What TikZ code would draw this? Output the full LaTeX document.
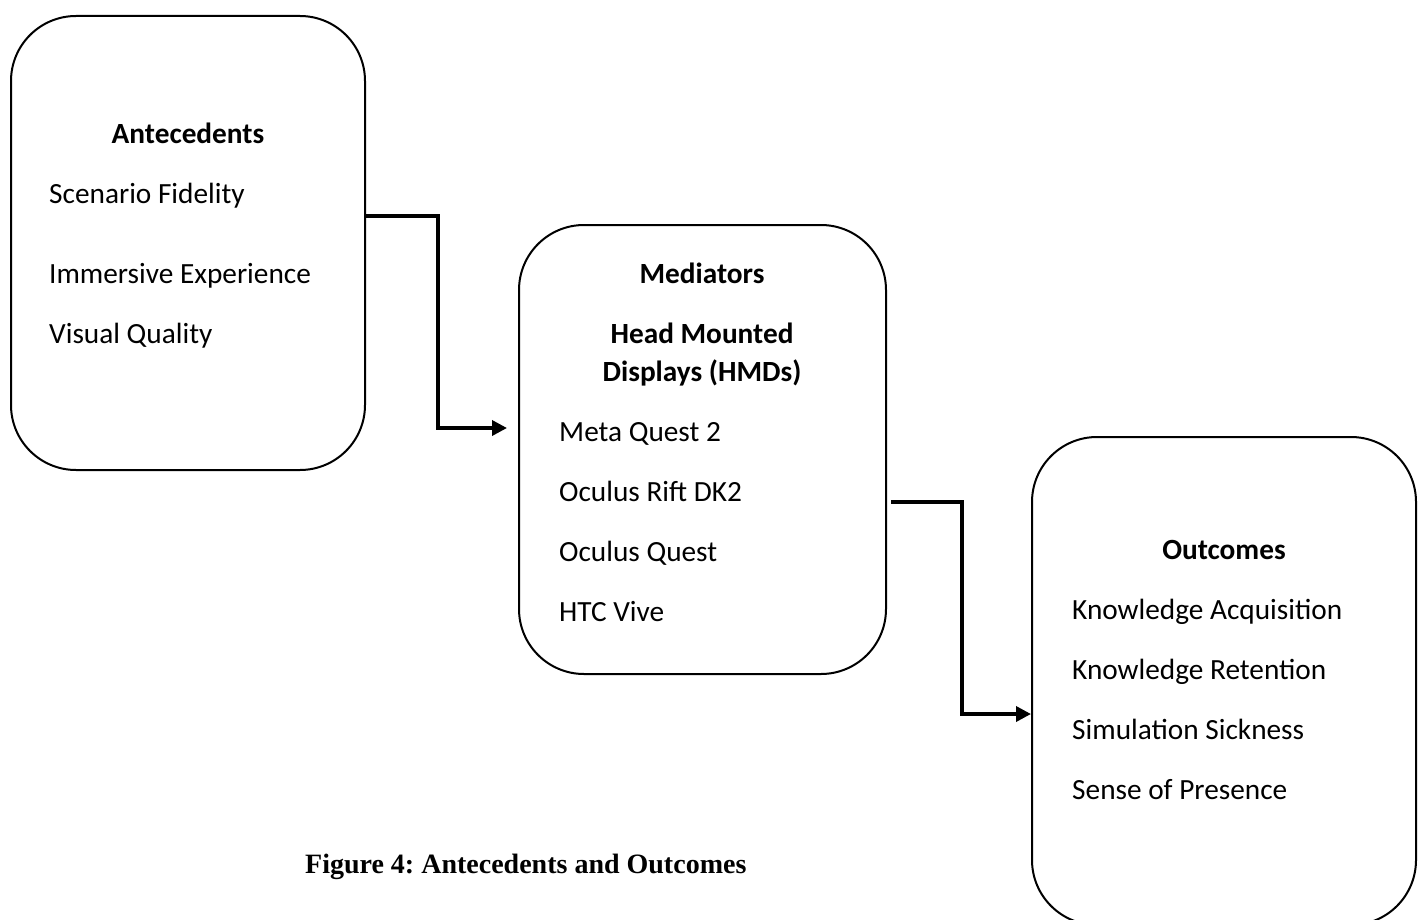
\documentclass[tikz,border=0pt]{standalone}
\usepackage{fontspec}
\setmainfont{Carlito}
\newfontfamily\capfont{Liberation Serif}
\usetikzlibrary{arrows.meta}
\tikzset{
  box/.style={draw=black, line width=2pt, rounded corners=65pt, inner sep=0pt},
  head/.style={anchor=base, font=\fontsize{29.3}{35}\selectfont\bfseries, inner sep=0pt, align=center},
  item/.style={anchor=base west, font=\fontsize{29.3}{35}\selectfont, inner sep=0pt},
  conn/.style={line width=3.5pt, -{Triangle[length=15pt,width=15pt]}},
}
\begin{document}
\frenchspacing
\begin{tikzpicture}[x=1pt,y=-1pt]
\useasboundingbox (0,0) rectangle (1421,920);
% boxes
\node[box, minimum width=354pt, minimum height=454pt] (ant) at (188,243) {};
\node[box, minimum width=367pt, minimum height=449pt] (med) at (702.5,449.5) {};
\node[box, minimum width=384pt, minimum height=488pt] (out) at (1224,681) {};
% antecedents text
\node[head] (antH) at (188,144) {Antecedents};
\node[item] (ant1) at (49,204) {Scenario Fidelity};
\node[item] (ant2) at (49,283) {Immersive Experience};
\node[item] (ant3) at (49,343) {Visual Quality};
% mediators text
\node[head] (medH) at (702,283) {Mediators};
\node[head] (medH2) at (702,343) {Head Mounted};
\node[head] (medH3) at (702,381) {Displays (HMDs)};
\node[item] (med1) at (559,441) {Meta Quest 2};
\node[item] (med2) at (559,501) {Oculus Rift DK2};
\node[item] (med3) at (559,561) {Oculus Quest};
\node[item] (med4) at (559,621) {HTC Vive};
% outcomes text
\node[head] (outH) at (1224,559) {Outcomes};
\node[item] (out1) at (1072,619) {Knowledge Acquisition};
\node[item] (out2) at (1072,679) {Knowledge Retention};
\node[item] (out3) at (1072,739) {Simulation Sickness};
\node[item] (out4) at (1072,799) {Sense of Presence};
% caption
\node[anchor=base west, inner sep=0pt, font=\capfont\fontsize{28}{33}\selectfont\bfseries] (cap) at (305,873) {Figure 4: Antecedents and Outcomes};
% connectors
\draw[conn] ([yshift=27pt]ant.east) -- ++(72,0) |- ([xshift=-11pt,yshift=21.5pt]med.west);
\draw[conn] ([xshift=4pt,yshift=-52.5pt]med.east) -- ++(71,0) |- ([yshift=-33pt]out.west);
\end{tikzpicture}
\end{document}
